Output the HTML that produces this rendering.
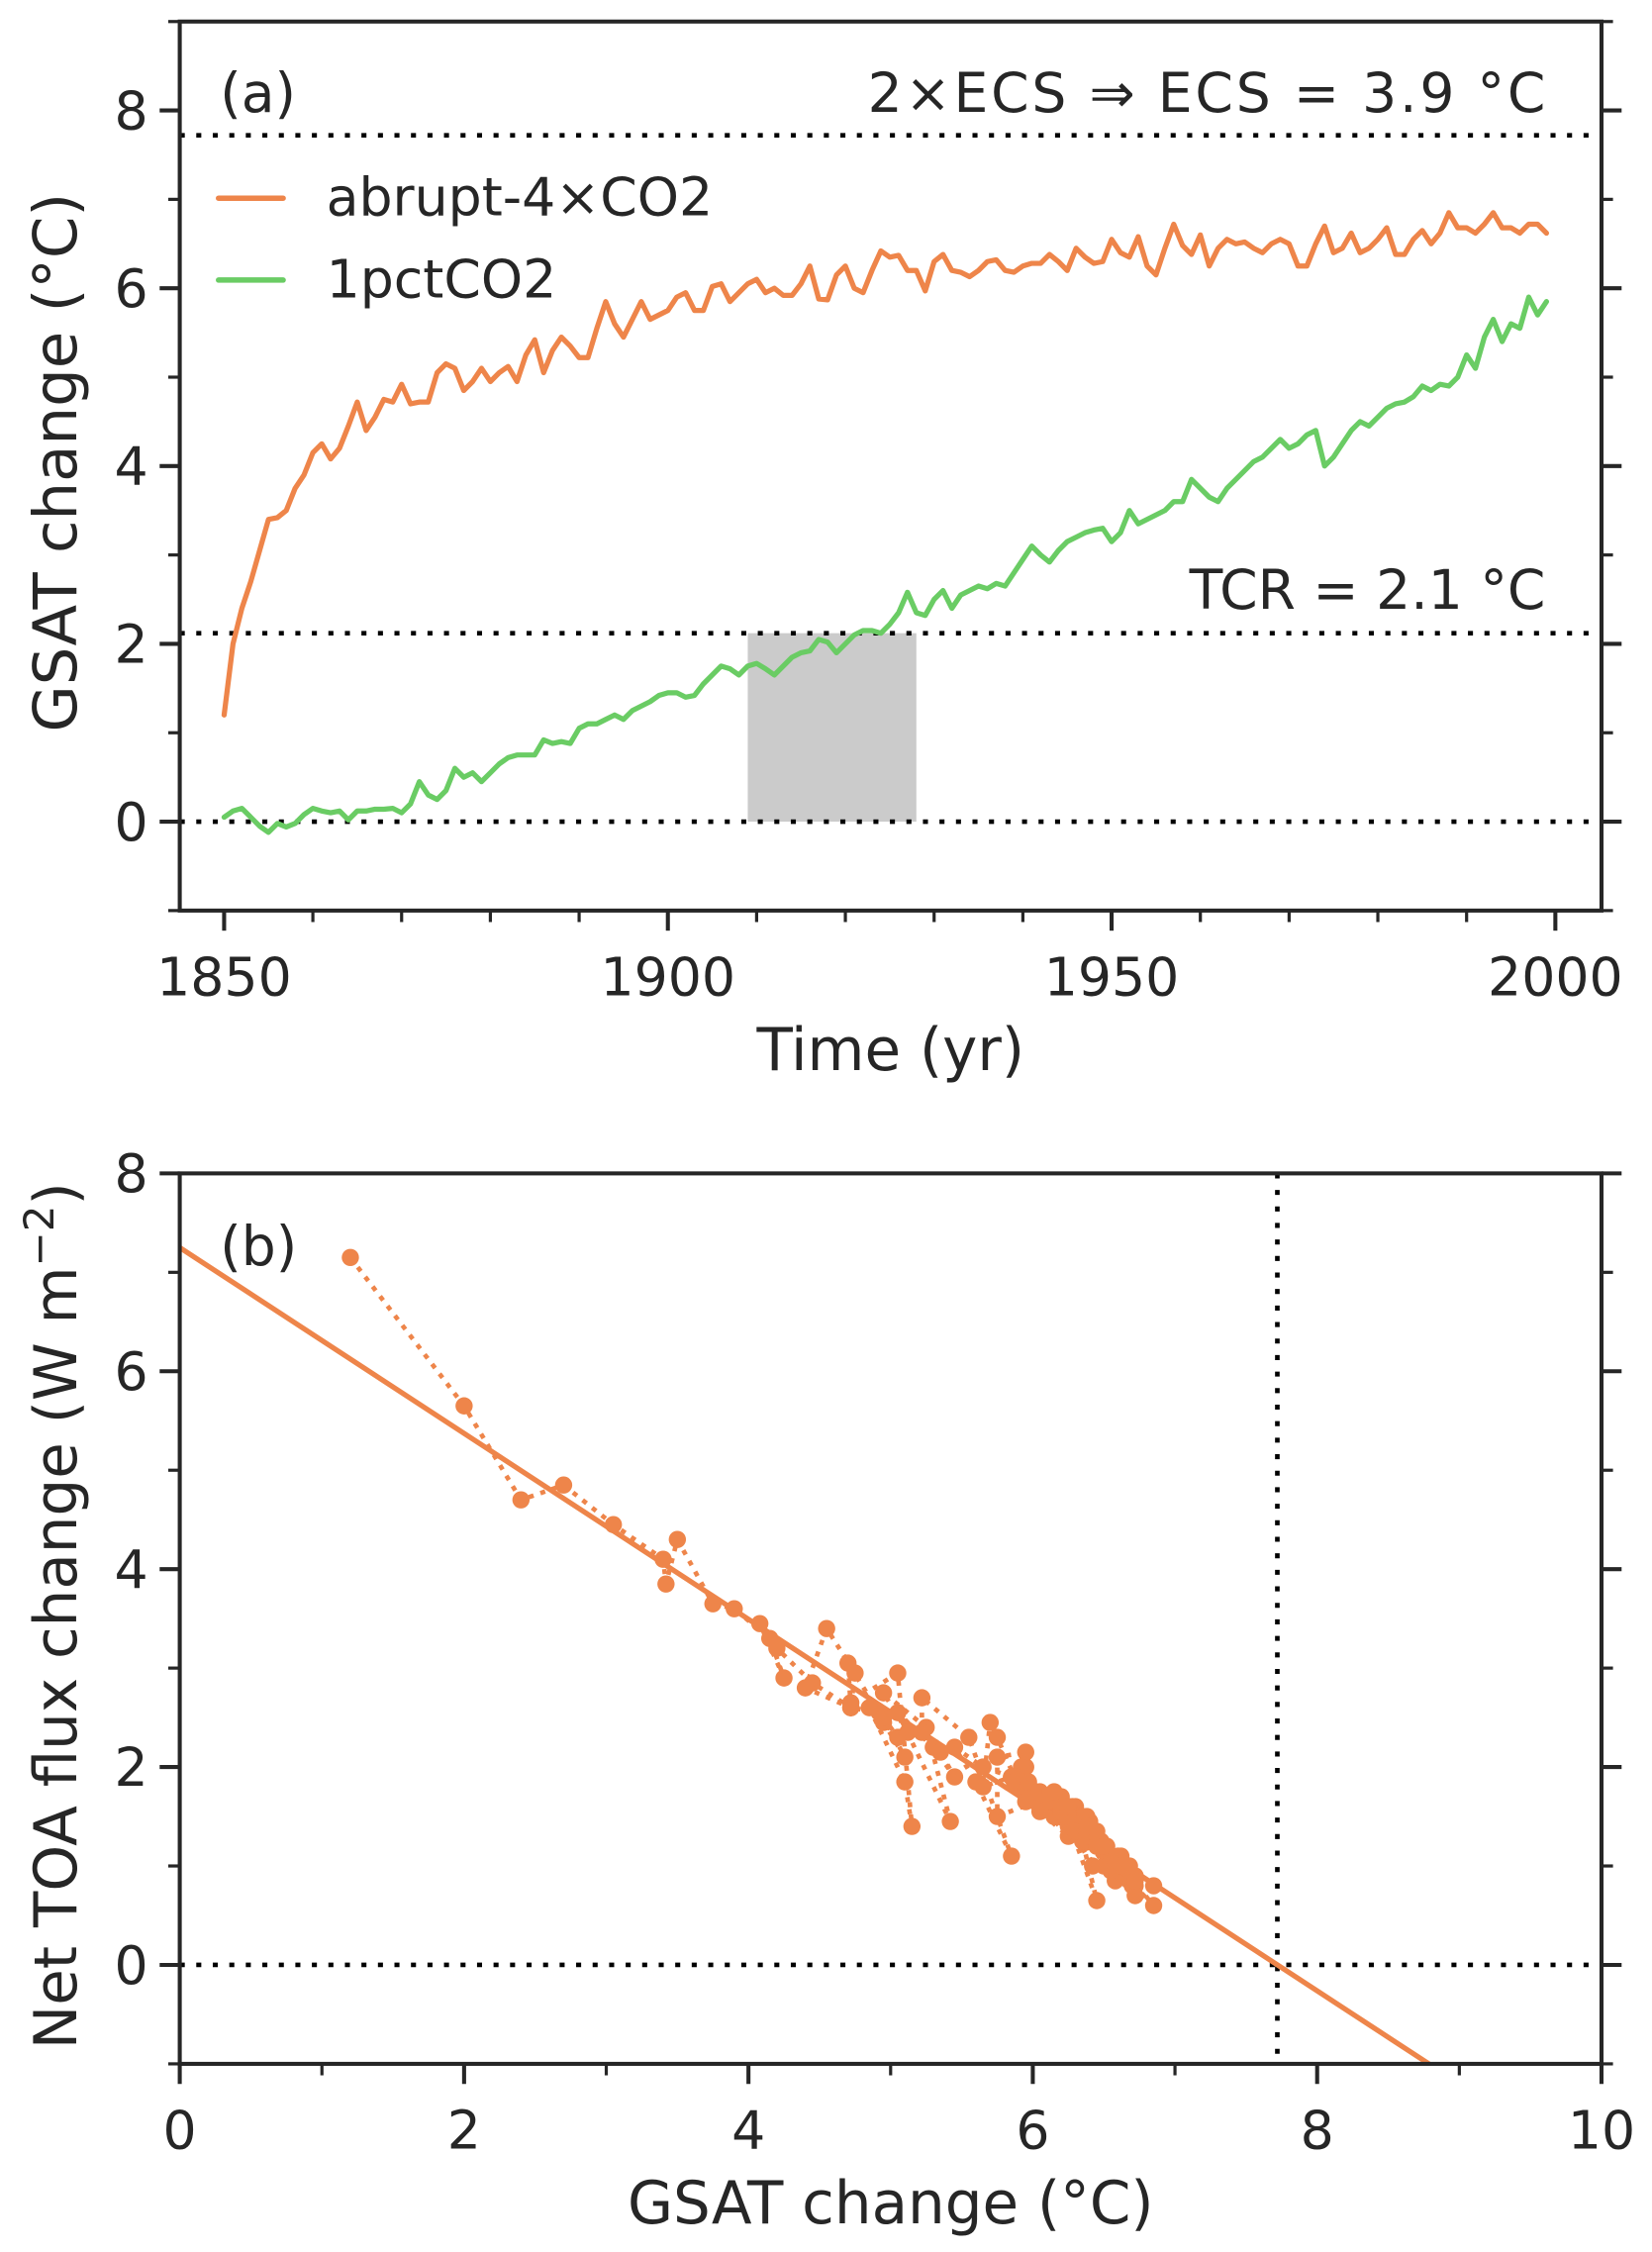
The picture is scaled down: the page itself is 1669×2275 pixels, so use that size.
<!DOCTYPE html>
<html><head><meta charset="utf-8"><style>
html,body{margin:0;padding:0;background:#fff}
svg{display:block}
text{font-family:"DejaVu Sans","Liberation Sans",sans-serif;fill:#262626}
</style></head><body>
<svg id="fig" width="1669" height="2275" viewBox="0 0 1150 1568" xmlns="http://www.w3.org/2000/svg">
<g id="pa"></g>
<g id="pb"></g>
</svg>
<script>
// ---- data ----
const years = Array.from({length:150},(_,i)=>1850+i);
const abrupt4x = [1.2,2.0,2.4,2.7,3.05,3.4,3.42,3.5,3.75,3.9,
4.15,4.25,4.08,4.2,4.45,4.72,4.4,4.55,4.75,4.72,
4.92,4.7,4.72,4.72,5.05,5.15,5.1,4.85,4.95,5.1,
4.95,5.05,5.12,4.95,5.25,5.42,5.05,5.3,5.45,5.35,
5.22,5.22,5.55,5.85,5.6,5.45,5.65,5.85,5.65,5.7,
5.75,5.9,5.95,5.75,5.75,6.02,6.05,5.85,5.95,6.05,
6.1,5.95,6.0,5.92,5.92,6.05,6.25,5.88,5.87,6.15,
6.25,6.0,5.95,6.2,6.42,6.35,6.37,6.2,6.2,5.97,
6.3,6.38,6.2,6.18,6.13,6.2,6.3,6.32,6.2,6.18,
6.25,6.28,6.28,6.38,6.3,6.2,6.45,6.35,6.28,6.3,
6.55,6.4,6.35,6.58,6.25,6.15,6.45,6.72,6.48,6.38,
6.6,6.25,6.45,6.55,6.5,6.52,6.45,6.4,6.5,6.55,
6.5,6.25,6.25,6.5,6.7,6.4,6.45,6.62,6.4,6.45,
6.55,6.68,6.38,6.38,6.55,6.65,6.5,6.62,6.85,6.68,
6.68,6.62,6.72,6.85,6.68,6.68,6.62,6.72,6.72,6.62];
const pct1 = [0.05,0.12,0.15,0.05,-0.05,-0.12,-0.02,-0.06,-0.02,0.08,
0.15,0.12,0.1,0.12,0.02,0.12,0.12,0.14,0.14,0.15,
0.1,0.2,0.45,0.3,0.25,0.35,0.6,0.5,0.55,0.45,
0.55,0.65,0.72,0.75,0.75,0.75,0.92,0.88,0.9,0.88,
1.05,1.1,1.1,1.15,1.2,1.15,1.25,1.3,1.35,1.42,
1.45,1.45,1.4,1.42,1.55,1.65,1.75,1.72,1.65,1.75,
1.78,1.72,1.65,1.75,1.85,1.9,1.92,2.05,2.02,1.9,
2.0,2.1,2.15,2.15,2.12,2.22,2.35,2.58,2.35,2.32,
2.5,2.6,2.4,2.55,2.6,2.65,2.62,2.68,2.65,2.8,
2.95,3.1,3.0,2.92,3.05,3.15,3.2,3.25,3.28,3.3,
3.15,3.25,3.5,3.35,3.4,3.45,3.5,3.6,3.6,3.85,
3.75,3.65,3.6,3.75,3.85,3.95,4.05,4.1,4.2,4.3,
4.2,4.25,4.35,4.4,4.0,4.1,4.25,4.4,4.5,4.45,
4.55,4.65,4.7,4.72,4.78,4.9,4.85,4.92,4.9,5.0,
5.25,5.1,5.45,5.65,5.4,5.6,5.55,5.9,5.7,5.85];
const toaFlux = [7.15,5.65,4.7,4.85,4.45,4.1,3.85,4.3,3.65,3.6,
3.3,2.9,3.45,3.2,2.85,2.6,2.8,3.4,2.95,2.6,
2.55,3.05,2.6,2.65,2.95,1.4,1.85,2.6,2.45,2.1,
2.5,2.3,2.35,2.75,2.4,1.45,2.55,2.2,1.9,2.15,
2.35,2.7,2.3,1.1,1.85,2.2,2.0,1.9,1.8,2.45,
2.3,1.8,2.15,2.1,1.5,1.65,1.75,1.9,2.0,1.6,
1.7,1.8,1.75,2.0,1.85,1.55,1.3,1.9,1.85,1.5,
1.4,1.75,1.65,1.55,1.0,1.3,1.45,1.55,1.7,1.85,
1.6,1.5,1.6,1.7,1.65,1.55,1.45,1.35,1.6,1.7,
1.55,1.5,1.6,1.3,1.45,1.65,0.65,1.25,1.45,1.35,
1.1,1.3,1.5,0.85,1.55,1.75,1.2,0.9,1.25,1.3,
1.1,1.6,1.35,0.95,1.15,1.2,1.3,1.45,1.0,1.05,
1.15,1.5,1.6,1.2,0.8,1.3,1.2,1.0,1.4,1.3,
1.05,0.85,1.35,1.4,1.1,0.9,1.2,1.0,0.6,0.85,
0.9,1.05,0.8,0.8,1.0,0.95,1.1,0.7,0.85,1.0];
const ecs2 = [7.72];
const tcr = [2.12];
const tcrWindow = [1909, 1928];
const regression = [7.25, -0.939]; // intercept, slope
const xTicksA = [1850,1900,1950,2000];
const yTicksA = [0,2,4,6,8];
const xTicksB = [0,2,4,6,8,10];
const yTicksB = [0,2,4,6,8];

const NS="http://www.w3.org/2000/svg";
const ORANGE="#ee854a", GREEN="#6acc64", INK="#262626";
function mk(parent,tag,attrs,txt){const e=document.createElementNS(NS,tag);for(const k in attrs)e.setAttribute(k,attrs[k]);if(txt!==undefined)e.textContent=txt;parent.appendChild(e);return e;}

// ---- panel a ----
const A={l:125,r:1115,t:15,b:634,x0:1845,x1:2005.2,y0:-1,y1:9};
const ax=v=>A.l+(v-A.x0)/(A.x1-A.x0)*(A.r-A.l);
const ay=v=>A.b-(v-A.y0)/(A.y1-A.y0)*(A.b-A.t);
const pa=document.getElementById('pa');

let r=mk(pa,'rect',{x:ax(tcrWindow[0]),y:ay(tcr[0]),width:ax(tcrWindow[1])-ax(tcrWindow[0]),height:ay(0)-ay(tcr[0]),fill:"#cbcbcb"});


[[ecs2[0],'ecs-line'],[tcr[0],'tcr-line'],[0,'zero-line-a']].forEach(([v,n])=>{
 const l=mk(pa,'line',{x1:A.l,x2:A.r,y1:ay(v),y2:ay(v),stroke:"#000","stroke-width":3.2,"stroke-dasharray":"3.5,8"});
 
 
});
function series(arr,col,name){
 const d=arr.map((v,i)=>(i?'L':'M')+ax(years[i]).toFixed(2)+','+ay(v).toFixed(2)).join('');
 const p=mk(pa,'path',{d:d,fill:"none",stroke:col,"stroke-width":3.6,"stroke-linejoin":"round","stroke-linecap":"round"});
 
 
}
series(pct1,GREEN,'series-1pctco2');
series(abrupt4x,ORANGE,'series-abrupt-4xco2');

function frame(g,P,fx,fy,xt,xmin,yt,ymin,xfmt){
 const f=mk(g,'rect',{x:P.l,y:P.t,width:P.r-P.l,height:P.b-P.t,fill:"none",stroke:INK,"stroke-width":2.8});
 
 
 xmin.forEach(v=>{mk(g,'line',{x1:fx(v),x2:fx(v),y1:P.b,y2:P.b+8,stroke:INK,"stroke-width":2.2});});
 ymin.forEach(v=>{mk(g,'line',{x1:P.l-8,x2:P.l,y1:fy(v),y2:fy(v),stroke:INK,"stroke-width":2.2});mk(g,'line',{x1:P.r,x2:P.r+8,y1:fy(v),y2:fy(v),stroke:INK,"stroke-width":2.2});});
 xt.forEach(v=>{mk(g,'line',{x1:fx(v),x2:fx(v),y1:P.b,y2:P.b+14,stroke:INK,"stroke-width":2.8});
  const t=mk(g,'text',{x:fx(v),y:P.b+59,"font-size":37,"text-anchor":"middle"},xfmt(v));
  
  });
 yt.forEach(v=>{mk(g,'line',{x1:P.l-14,x2:P.l,y1:fy(v),y2:fy(v),stroke:INK,"stroke-width":2.8});mk(g,'line',{x1:P.r,x2:P.r+14,y1:fy(v),y2:fy(v),stroke:INK,"stroke-width":2.8});
  const t=mk(g,'text',{x:P.l-22,y:fy(v)+13,"font-size":37,"text-anchor":"end"},String(v));
  
  });
}
const minA=[];for(let y=1850;y<=2000;y+=10)minA.push(y);
const minAy=[];for(let v=-1;v<=9;v++)minAy.push(v);
frame(pa,A,ax,ay,xTicksA,minA,yTicksA,minAy,v=>String(v));

let t;
t=mk(pa,'text',{x:153,y:78,"font-size":38},'(a)');
t=mk(pa,'text',{x:1076,y:78,"font-size":38,"text-anchor":"end",textLength:472},'2×ECS ⇒ ECS = 3.9 °C');
t=mk(pa,'text',{x:1076,y:424,"font-size":38,"text-anchor":"end"},'TCR = 2.1 °C');
const lg=mk(pa,'g',{});
mk(lg,'line',{x1:152,x2:197,y1:138,y2:138,stroke:ORANGE,"stroke-width":3.8,"stroke-linecap":"round"});
t=mk(lg,'text',{x:227,y:150,"font-size":37},'abrupt-4×CO2');
mk(lg,'line',{x1:152,x2:197,y1:195,y2:195,stroke:GREEN,"stroke-width":3.8,"stroke-linecap":"round"});
t=mk(lg,'text',{x:227,y:207,"font-size":37},'1pctCO2');
t=mk(pa,'text',{x:620,y:745,"font-size":41,"text-anchor":"middle"},'Time (yr)');
t=mk(pa,'text',{x:0,y:0,"font-size":42,"text-anchor":"middle",transform:"translate(53,322) rotate(-90)"},'GSAT change (°C)');

// ---- panel b ----
const B={l:125,r:1115,t:817,b:1437,x0:0,x1:10,y0:-1,y1:8};
const bx=v=>B.l+(v-B.x0)/(B.x1-B.x0)*(B.r-B.l);
const by=v=>B.b-(v-B.y0)/(B.y1-B.y0)*(B.b-B.t);
const pb=document.getElementById('pb');
let l=mk(pb,'line',{x1:B.l,x2:B.r,y1:by(0),y2:by(0),stroke:"#000","stroke-width":3.2,"stroke-dasharray":"3.5,8"});

l=mk(pb,'line',{x1:bx(ecs2[0]),x2:bx(ecs2[0]),y1:B.t,y2:B.b,stroke:"#000","stroke-width":3.2,"stroke-dasharray":"3.5,8"});

const xEnd=(B.y0-regression[0])/regression[1];
l=mk(pb,'line',{x1:bx(0),y1:by(regression[0]),x2:bx(xEnd),y2:by(B.y0),stroke:ORANGE,"stroke-width":3.6});

const dd=abrupt4x.map((v,i)=>(i?'L':'M')+bx(v).toFixed(2)+','+by(toaFlux[i]).toFixed(2)).join('');
l=mk(pb,'path',{d:dd,fill:"none",stroke:ORANGE,"stroke-width":3.2,"stroke-dasharray":"3.5,5"});

abrupt4x.forEach((v,i)=>{
 const c=mk(pb,'circle',{cx:bx(v),cy:by(toaFlux[i]),r:6,fill:ORANGE});
 
 
});
const minBx=[];for(let v=0;v<=10;v++)minBx.push(v);
const minBy=[];for(let v=-1;v<=8;v++)minBy.push(v);
frame(pb,B,bx,by,xTicksB,minBx,yTicksB,minBy,v=>String(v));
t=mk(pb,'text',{x:153,y:881,"font-size":38},'(b)');
t=mk(pb,'text',{x:620,y:1548,"font-size":41,"text-anchor":"middle"},'GSAT change (°C)');
t=mk(pb,'text',{x:0,y:0,"font-size":41,"text-anchor":"middle",transform:"translate(53,1125) rotate(-90)"});

mk(t,'tspan',{},'Net TOA flux change (W m');
mk(t,'tspan',{dy:-16,"font-size":29},'−2');
mk(t,'tspan',{dy:16},')');
</script>
</body></html>
